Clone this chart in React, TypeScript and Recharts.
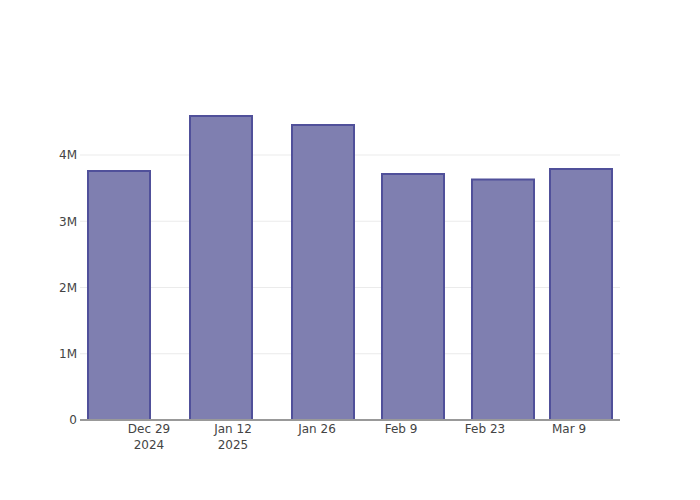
import React from "react";
import { BarChart, Bar, XAxis, YAxis, CartesianGrid } from "recharts";

const dates = ["2024-12-24", "2025-01-10", "2025-01-27", "2025-02-11", "2025-02-26", "2025-03-11"];
const values = [3758000, 4589000, 4453000, 3713000, 3630000, 3789000];
const tickDates = ["2024-12-29", "2025-01-12", "2025-01-26", "2025-02-09", "2025-02-23", "2025-03-09"];
const tickLabels = [["Dec 29", "2024"], ["Jan 12", "2025"], ["Jan 26"], ["Feb 9"], ["Feb 23"], ["Mar 9"]];
const yTicks = [0, 1000000, 2000000, 3000000, 4000000];
const yLabels = ["0", "1M", "2M", "3M", "4M"];
const yMax = 4830000;

const DAY = 86400000;
const origin = Date.UTC(2024, 11, 29);
const toDay = (s: string) => {
  const [y, m, d] = s.split("-").map(Number);
  return Math.round((Date.UTC(y, m - 1, d) - origin) / DAY);
};

const data = dates.map((d, i) => ({ day: toDay(d), value: values[i] }));
const xTicks = tickDates.map(toDay);
const FONT = "'DejaVu Sans', sans-serif";

const XTick = (props: any) => {
  const { x, y, payload } = props;
  const idx = xTicks.indexOf(payload.value);
  const lines = idx >= 0 ? tickLabels[idx] : [];
  return (
    <text x={x} y={y} textAnchor="middle" fill="#444" fontSize={12} fontFamily={FONT}>
      {lines.map((l, i) => (
        <tspan key={i} x={x} dy={i === 0 ? 13 : 16}>{l}</tspan>
      ))}
    </text>
  );
};

export default function App() {
  return (
    <div style={{ position: "absolute", left: 0, top: 0, width: 700, height: 500, background: "#fff" }}>
      <BarChart width={700} height={500} data={data} margin={{ top: 100, right: 80, bottom: 0, left: 0 }}>
        <CartesianGrid
          vertical={false}
          stroke="#ebebeb"
          horizontalCoordinatesGenerator={(p: any) => {
            const off = p.offset;
            return yTicks.slice(1).map((t) => off.top + off.height * (1 - t / yMax));
          }}
        />
        <XAxis
          dataKey="day"
          type="number"
          domain={[-11.5, 78.5]}
          allowDataOverflow
          ticks={xTicks}
          tick={<XTick />}
          tickLine={false}
          tickSize={0}
          tickMargin={0}
          axisLine={{ stroke: "#999", strokeWidth: 2 }}
          height={80}
          interval={0}
        />
        <YAxis
          type="number"
          domain={[0, yMax]}
          allowDataOverflow
          ticks={yTicks}
          tickFormatter={(v: number) => yLabels[yTicks.indexOf(v)] ?? ""}
          tick={{ fill: "#444", fontSize: 12, fontFamily: FONT }}
          tickLine={false}
          tickSize={0}
          axisLine={false}
          width={80}
          tickMargin={3}
        />
        <Bar
          dataKey="value"
          barSize={62}
          fill="#7f7fb0"
          stroke="#50509a"
          strokeWidth={2}
          isAnimationActive={false}
        />
      </BarChart>
    </div>
  );
}
